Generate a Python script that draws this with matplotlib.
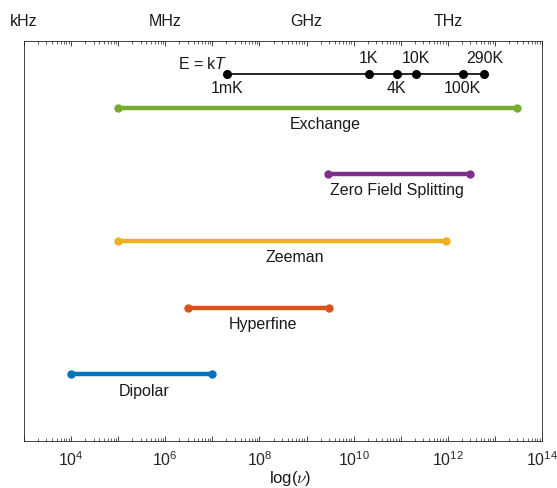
import matplotlib
matplotlib.use("Agg")
import matplotlib.pyplot as plt
import matplotlib.transforms as mtransforms
import numpy as np

plt.rcParams['font.family'] = ['Liberation Sans', 'DejaVu Sans']
plt.rcParams['mathtext.fontset'] = 'custom'
plt.rcParams['mathtext.rm'] = 'Liberation Sans'
plt.rcParams['mathtext.it'] = 'Liberation Sans:italic'

# Interaction ranges (Hz)
names = ["Dipolar", "Hyperfine", "Zeeman", "Zero Field Splitting", "Exchange"]
starts = [1e4, 3e6, 1e5, 2.8e9, 1e5]
ends = [1e7, 3e9, 9e11, 2.9e12, 2.9e13]
levels = [1, 2, 3, 4, 5]
colors = ["#0072BD", "#D95319", "#EDB120", "#7E2F8E", "#77AC30"]
label_x = [3.5e5, 1.2e8, 5.6e8, 8.5e10, 2.45e9]

# E = kT scale
temp_labels = ["1mK", "1K", "4K", "10K", "100K", "290K"]
temp_freqs = [2.08e7, 2.08e10, 8.3e10, 2.08e11, 2.08e12, 6.0e12]
temp_above = [False, True, False, True, False, True]
temp_level = 5.5

unit_labels = ["kHz", "MHz", "GHz", "THz"]
unit_pos = [1e3, 1e6, 1e9, 1e12]

FS = 11.5

fig = plt.figure(figsize=(5.57, 4.88), dpi=100)
ax = fig.add_axes([0.043, 0.0963, 0.930, 0.8197])
ax.set_xscale('log')
ax.set_xlim(1e3, 1e14)
ax.set_ylim(0, 6)

for n, s, e, lv, c, lx in zip(names, starts, ends, levels, colors, label_x):
    ax.plot([s, e], [lv, lv], color=c, lw=3.2, marker='o', ms=5, solid_capstyle='butt')
    ax.text(lx, lv - 0.25, n, ha='center', va='center', fontsize=FS, color='#1a1a1a')

ax.plot(temp_freqs, [temp_level] * len(temp_freqs), color='k', lw=1.2, marker='o', ms=5.5)
for lab, f, up in zip(temp_labels, temp_freqs, temp_above):
    ax.text(f, temp_level + (0.24 if up else -0.21), lab, ha='center', va='center',
            fontsize=FS, color='#1a1a1a')
ax.text(6.3e6, temp_level + 0.16, r"E = k$\it{T}$", ha='center', va='center',
        fontsize=FS, color='#1a1a1a')

trans = mtransforms.blended_transform_factory(ax.transData, ax.transAxes)
for lab, p in zip(unit_labels, unit_pos):
    ax.text(p, 1.049, lab, transform=trans, ha='center', va='center', fontsize=FS,
            color='#1a1a1a', clip_on=False)

major = [10.0 ** k for k in range(3, 15)]
ax.set_xticks(major)
ax.set_xticklabels([(r"$10^{%d}$" % k) if k % 2 == 0 else "" for k in range(3, 15)])
minor = [m * 10.0 ** k for k in range(3, 14) for m in range(2, 10)]
ax.set_xticks(minor, minor=True)
ax.tick_params(axis='x', which='both', direction='in', top=True, bottom=True,
               labelsize=11.5, colors='#262626', pad=7)
ax.tick_params(axis='x', which='major', length=3.5, width=0.6)
ax.tick_params(axis='x', which='minor', length=2, width=0.5)
ax.set_yticks([])
for sp in ax.spines.values():
    sp.set_color('#262626')
    sp.set_linewidth(0.6)

ax.set_xlabel(r"log($\nu$)", fontsize=12, color='#1a1a1a', math_fontfamily='cm')
ax.xaxis.set_label_coords(0.515, -0.07)

fig.savefig("out.png", dpi=100)
